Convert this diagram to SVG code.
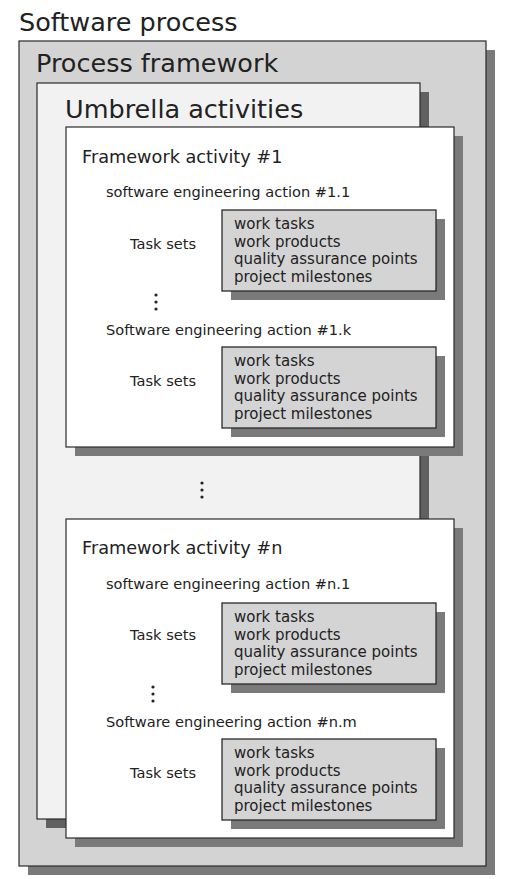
<svg xmlns="http://www.w3.org/2000/svg" width="505" height="879" viewBox="0 0 505 879">
<style>
text{font-family:"DejaVu Sans","Liberation Sans",sans-serif;fill:#222}
.h{font-size:25.5px}
.fa{font-size:17.7px}
.s{font-size:14.6px}
.t{font-size:15px}
.sh{fill:#7a7a7a}
.box{stroke:#2a2a2a;stroke-width:1.2}
.task{fill:#d4d4d4;stroke:#2a2a2a;stroke-width:1.3}
.dot{fill:#222}
</style>
<rect width="505" height="879" fill="#fff"/>
<text class="h" x="19" y="31">Software process</text>
<g id="process-framework">
<rect class="sh" x="28" y="50" width="467" height="825"/>
<rect class="box" x="19" y="41" width="467" height="825" fill="#d3d3d3"/>
<text class="h" x="36" y="72">Process framework</text>
</g>
<g id="umbrella-activities">
<rect x="46" y="92" width="383" height="736" fill="#606060"/>
<rect class="box" x="37" y="83" width="383" height="736" fill="#f2f2f2"/>
<text class="h" x="65" y="118">Umbrella activities</text>
<g class="dot"><circle cx="202" cy="483" r="1.6"/><circle cx="202" cy="490" r="1.6"/><circle cx="202" cy="497" r="1.6"/></g>
</g>
<g id="framework-activity-1">
<rect class="sh" x="75" y="136" width="388" height="320"/>
<rect class="box" x="66" y="127" width="388" height="320" fill="#fff"/>
<text class="fa" x="82" y="163">Framework activity #1</text>
<text class="s" x="106" y="197">software engineering action #1.1</text>
<text class="s" x="130" y="249">Task sets</text>
<g class="dot"><circle cx="156" cy="295" r="1.6"/><circle cx="156" cy="302" r="1.6"/><circle cx="156" cy="309" r="1.6"/></g>
<text class="s" x="106" y="335">Software engineering action #1.k</text>
<text class="s" x="130" y="386">Task sets</text>
</g>
<g id="taskset-1-1">
<rect class="sh" x="231" y="219" width="214" height="81"/>
<rect class="task" x="222" y="210" width="214" height="81"/>
<text class="t" x="234" y="229">work tasks</text>
<text class="t" x="234" y="246.5">work products</text>
<text class="t" x="234" y="264">quality assurance points</text>
<text class="t" x="234" y="281.5">project milestones</text>
</g>
<g id="taskset-1-k">
<rect class="sh" x="231" y="356" width="214" height="81"/>
<rect class="task" x="222" y="347" width="214" height="81"/>
<text class="t" x="234" y="366">work tasks</text>
<text class="t" x="234" y="383.5">work products</text>
<text class="t" x="234" y="401">quality assurance points</text>
<text class="t" x="234" y="418.5">project milestones</text>
</g>
<g id="framework-activity-n">
<rect class="sh" x="75" y="528" width="388" height="319"/>
<rect class="box" x="66" y="519" width="388" height="319" fill="#fff"/>
<text class="fa" x="82" y="554">Framework activity #n</text>
<text class="s" x="106" y="589">software engineering action #n.1</text>
<text class="s" x="130" y="640">Task sets</text>
<g class="dot"><circle cx="153" cy="687" r="1.6"/><circle cx="153" cy="694" r="1.6"/><circle cx="153" cy="701" r="1.6"/></g>
<text class="s" x="106" y="727">Software engineering action #n.m</text>
<text class="s" x="130" y="778">Task sets</text>
</g>
<g id="taskset-n-1">
<rect class="sh" x="231" y="612" width="214" height="81"/>
<rect class="task" x="222" y="603" width="214" height="81"/>
<text class="t" x="234" y="622">work tasks</text>
<text class="t" x="234" y="639.5">work products</text>
<text class="t" x="234" y="657">quality assurance points</text>
<text class="t" x="234" y="674.5">project milestones</text>
</g>
<g id="taskset-n-m">
<rect class="sh" x="231" y="748" width="214" height="81"/>
<rect class="task" x="222" y="739" width="214" height="81"/>
<text class="t" x="234" y="758">work tasks</text>
<text class="t" x="234" y="775.5">work products</text>
<text class="t" x="234" y="793">quality assurance points</text>
<text class="t" x="234" y="810.5">project milestones</text>
</g>
<g id="connectors"></g>
</svg>
